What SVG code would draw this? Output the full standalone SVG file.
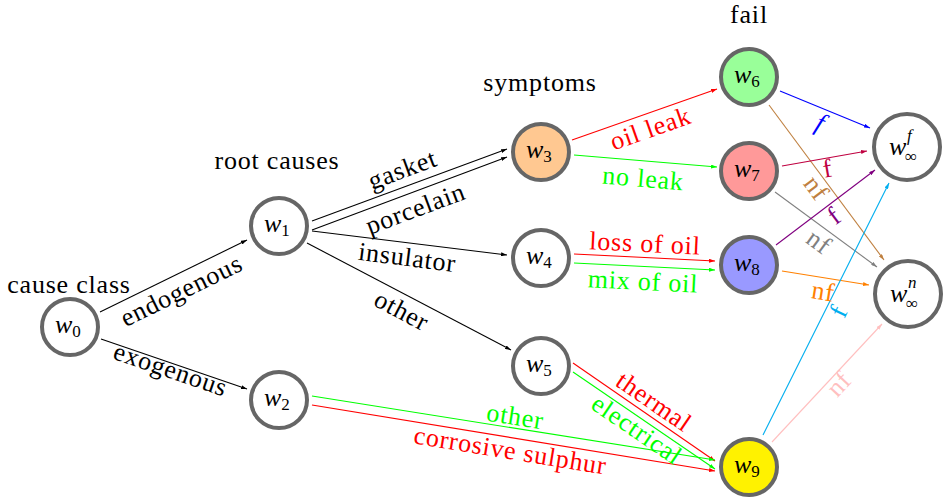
<svg xmlns="http://www.w3.org/2000/svg" width="944" height="500" viewBox="0 0 944 500" font-family="'Liberation Serif', 'Times New Roman', serif">
  <style>
    text { font-family: "Liberation Serif", "Times New Roman", serif; }
    .lbl { font-size: 26px; text-anchor: middle; letter-spacing: 0.8px; }
    .node { stroke: #666666; stroke-width: 4; fill: #ffffff; }
    .w { font-size: 26px; font-style: italic; }
    .sub { font-size: 17px; font-style: normal; }
    .supi { font-size: 17px; font-style: italic; }
    .edge { fill: none; stroke-width: 1.1; }
  </style>
  <defs>
    <marker id="a-black" viewBox="0 0 6 4" markerWidth="6" markerHeight="4" refX="6" refY="2" orient="auto" markerUnits="userSpaceOnUse"><path d="M0,0 L6,2 L0,4 z" fill="#000000"/></marker>
    <marker id="a-red" viewBox="0 0 6 4" markerWidth="6" markerHeight="4" refX="6" refY="2" orient="auto" markerUnits="userSpaceOnUse"><path d="M0,0 L6,2 L0,4 z" fill="#ff0000"/></marker>
    <marker id="a-green" viewBox="0 0 6 4" markerWidth="6" markerHeight="4" refX="6" refY="2" orient="auto" markerUnits="userSpaceOnUse"><path d="M0,0 L6,2 L0,4 z" fill="#00ff00"/></marker>
    <marker id="a-blue" viewBox="0 0 6 4" markerWidth="6" markerHeight="4" refX="6" refY="2" orient="auto" markerUnits="userSpaceOnUse"><path d="M0,0 L6,2 L0,4 z" fill="#0000ff"/></marker>
    <marker id="a-brown" viewBox="0 0 6 4" markerWidth="6" markerHeight="4" refX="6" refY="2" orient="auto" markerUnits="userSpaceOnUse"><path d="M0,0 L6,2 L0,4 z" fill="#bf8040"/></marker>
    <marker id="a-crimson" viewBox="0 0 6 4" markerWidth="6" markerHeight="4" refX="6" refY="2" orient="auto" markerUnits="userSpaceOnUse"><path d="M0,0 L6,2 L0,4 z" fill="#bf0040"/></marker>
    <marker id="a-gray" viewBox="0 0 6 4" markerWidth="6" markerHeight="4" refX="6" refY="2" orient="auto" markerUnits="userSpaceOnUse"><path d="M0,0 L6,2 L0,4 z" fill="#808080"/></marker>
    <marker id="a-violet" viewBox="0 0 6 4" markerWidth="6" markerHeight="4" refX="6" refY="2" orient="auto" markerUnits="userSpaceOnUse"><path d="M0,0 L6,2 L0,4 z" fill="#800080"/></marker>
    <marker id="a-orange" viewBox="0 0 6 4" markerWidth="6" markerHeight="4" refX="6" refY="2" orient="auto" markerUnits="userSpaceOnUse"><path d="M0,0 L6,2 L0,4 z" fill="#ff8000"/></marker>
    <marker id="a-cyan" viewBox="0 0 6 4" markerWidth="6" markerHeight="4" refX="6" refY="2" orient="auto" markerUnits="userSpaceOnUse"><path d="M0,0 L6,2 L0,4 z" fill="#00aeef"/></marker>
    <marker id="a-pink" viewBox="0 0 6 4" markerWidth="6" markerHeight="4" refX="6" refY="2" orient="auto" markerUnits="userSpaceOnUse"><path d="M0,0 L6,2 L0,4 z" fill="#ffbfbf"/></marker>
  </defs>

  <!-- column headings -->
  <g id="headings" fill="#000000">
    <text class="lbl" x="69" y="293">cause class</text>
    <text class="lbl" x="277" y="169">root causes</text>
    <text class="lbl" x="540" y="91">symptoms</text>
    <text class="lbl" x="749" y="23">fail</text>
  </g>

  <!-- connectors -->
  <g id="connectors">
    <line class="edge" x1="100" y1="312" x2="247" y2="240" stroke="#000000" marker-end="url(#a-black)"/>
    <line class="edge" x1="101" y1="339" x2="247" y2="389" stroke="#000000" marker-end="url(#a-black)"/>
    <line class="edge" x1="312" y1="221" x2="507" y2="149" stroke="#000000" marker-end="url(#a-black)"/>
    <line class="edge" x1="312" y1="230" x2="507" y2="157" stroke="#000000" marker-end="url(#a-black)"/>
    <line class="edge" x1="312" y1="231" x2="507" y2="255" stroke="#000000" marker-end="url(#a-black)"/>
    <line class="edge" x1="307" y1="243" x2="511" y2="350" stroke="#000000" marker-end="url(#a-black)"/>

    <line class="edge" x1="572" y1="140" x2="717" y2="89" stroke="#ff0000" marker-end="url(#a-red)"/>
    <line class="edge" x1="574" y1="155" x2="717" y2="167" stroke="#00ff00" marker-end="url(#a-green)"/>
    <line class="edge" x1="574" y1="254" x2="715" y2="261" stroke="#ff0000" marker-end="url(#a-red)"/>
    <line class="edge" x1="574" y1="263" x2="715" y2="270" stroke="#00ff00" marker-end="url(#a-green)"/>
    <line class="edge" x1="573" y1="363" x2="715" y2="461" stroke="#ff0000" marker-end="url(#a-red)"/>
    <line class="edge" x1="573" y1="372" x2="715" y2="469" stroke="#00ff00" marker-end="url(#a-green)"/>
    <line class="edge" x1="312" y1="396" x2="715" y2="460" stroke="#00ff00" marker-end="url(#a-green)"/>
    <line class="edge" x1="312" y1="405" x2="715" y2="471" stroke="#ff0000" marker-end="url(#a-red)"/>

    <line class="edge" x1="780" y1="91" x2="870" y2="128" stroke="#0000ff" marker-end="url(#a-blue)"/>
    <line class="edge" x1="769" y1="105" x2="884" y2="260" stroke="#bf8040" marker-end="url(#a-brown)"/>
    <line class="edge" x1="782" y1="166" x2="867" y2="151" stroke="#bf0040" marker-end="url(#a-crimson)"/>
    <line class="edge" x1="775" y1="192" x2="877" y2="267" stroke="#808080" marker-end="url(#a-gray)"/>
    <line class="edge" x1="776" y1="245" x2="875" y2="170" stroke="#800080" marker-end="url(#a-violet)"/>
    <line class="edge" x1="782" y1="271" x2="869" y2="285" stroke="#ff8000" marker-end="url(#a-orange)"/>
    <line class="edge" x1="763" y1="435" x2="889" y2="183" stroke="#00aeef" marker-end="url(#a-cyan)"/>
    <line class="edge" x1="772" y1="442" x2="882" y2="324" stroke="#ffbfbf" marker-end="url(#a-pink)"/>

    <!-- connector labels -->
    <text class="lbl" transform="translate(182,292) rotate(-26)" y="7" fill="#000000">endogenous</text>
    <text class="lbl" transform="translate(170,371) rotate(18.8)" y="7" fill="#000000">exogenous</text>
    <text class="lbl" transform="translate(403,171) rotate(-20.3)" y="7" fill="#000000">gasket</text>
    <text class="lbl" transform="translate(416,210) rotate(-20.5)" y="7" fill="#000000">porcelain</text>
    <text class="lbl" transform="translate(407,259) rotate(7.3)" y="7" fill="#000000">insulator</text>
    <text class="lbl" transform="translate(401,312) rotate(27.7)" y="7" fill="#000000">other</text>

    <text class="lbl" transform="translate(651,130) rotate(-19.4)" y="7" fill="#ff0000">oil leak</text>
    <text class="lbl" transform="translate(643,180) rotate(4.8)" y="7" fill="#00ff00">no leak</text>
    <text class="lbl" transform="translate(645,245) rotate(2.8)" y="7" fill="#ff0000">loss of oil</text>
    <text class="lbl" transform="translate(643,283) rotate(2.8)" y="7" fill="#00ff00">mix of oil</text>
    <text class="lbl" transform="translate(653,403) rotate(34.6)" y="7" fill="#ff0000">thermal</text>
    <text class="lbl" transform="translate(636,431) rotate(34.3)" y="7" fill="#00ff00">electrical</text>
    <text class="lbl" transform="translate(515,418) rotate(9)" y="7" fill="#00ff00">other</text>
    <text class="lbl" transform="translate(510,452) rotate(9.3)" y="7" fill="#ff0000">corrosive sulphur</text>

    <text class="lbl" transform="translate(820,124) rotate(22)" y="7" fill="#0000ff" font-style="italic">f</text>
    <text class="lbl" transform="translate(815,189) rotate(53.4)" y="7" fill="#bf8040">nf</text>
    <text class="lbl" transform="translate(828,170) rotate(-10)" y="7" fill="#bf0040">f</text>
    <text class="lbl" transform="translate(818,243) rotate(36)" y="7" fill="#808080">nf</text>
    <text class="lbl" transform="translate(835,217) rotate(-37)" y="7" fill="#800080">f</text>
    <text class="lbl" transform="translate(823,293) rotate(9)" y="7" fill="#ff8000">nf</text>
    <text class="lbl" transform="translate(840,312) rotate(-64)" y="7" fill="#00aeef">f</text>
    <text class="lbl" transform="translate(840,385) rotate(-47)" y="7" fill="#ffbfbf">nf</text>
  </g>

  <!-- nodes -->
  <g id="w0"><circle class="node" cx="70" cy="327" r="28"/><text class="w" x="55" y="333">w<tspan class="sub" dy="4">0</tspan></text></g>
  <g id="w1"><circle class="node" cx="279" cy="226" r="28"/><text class="w" x="264" y="232">w<tspan class="sub" dy="4">1</tspan></text></g>
  <g id="w2"><circle class="node" cx="279" cy="400" r="28"/><text class="w" x="264" y="406">w<tspan class="sub" dy="4">2</tspan></text></g>
  <g id="w3"><circle class="node" cx="541" cy="152" r="28" style="fill:#ffc891"/><text class="w" x="526" y="158">w<tspan class="sub" dy="4">3</tspan></text></g>
  <g id="w4"><circle class="node" cx="541" cy="258" r="28"/><text class="w" x="526" y="264">w<tspan class="sub" dy="4">4</tspan></text></g>
  <g id="w5"><circle class="node" cx="541" cy="366" r="28"/><text class="w" x="526" y="372">w<tspan class="sub" dy="4">5</tspan></text></g>
  <g id="w6"><circle class="node" cx="749" cy="77" r="28" style="fill:#99ff99"/><text class="w" x="734" y="83">w<tspan class="sub" dy="4">6</tspan></text></g>
  <g id="w7"><circle class="node" cx="749" cy="171" r="28" style="fill:#ff9999"/><text class="w" x="734" y="177">w<tspan class="sub" dy="4">7</tspan></text></g>
  <g id="w8"><circle class="node" cx="749" cy="265" r="28" style="fill:#9999ff"/><text class="w" x="734" y="271">w<tspan class="sub" dy="4">8</tspan></text></g>
  <g id="w9"><circle class="node" cx="749" cy="467" r="28" style="fill:#fff200"/><text class="w" x="734" y="473">w<tspan class="sub" dy="4">9</tspan></text></g>
  <g id="w-inf-f"><circle class="node" cx="907" cy="147" r="33"/><text class="w" x="889" y="155">w</text><text class="supi" x="907" y="141">f</text><text class="sub" x="905" y="162">∞</text></g>
  <g id="w-inf-n"><circle class="node" cx="908" cy="294" r="33"/><text class="w" x="890" y="302">w</text><text class="supi" x="908" y="288">n</text><text class="sub" x="906" y="309">∞</text></g>
</svg>
